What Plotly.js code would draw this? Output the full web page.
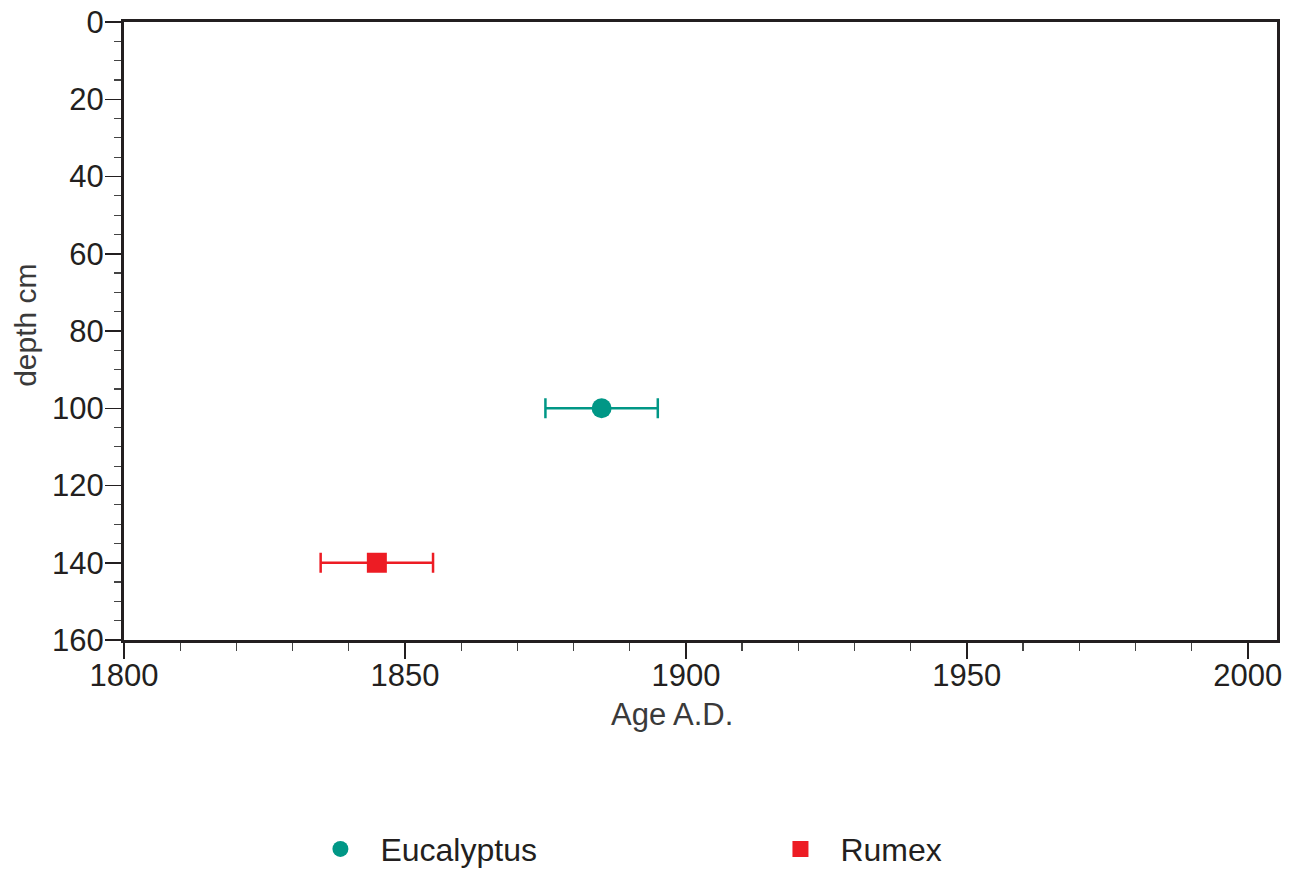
<!DOCTYPE html>
<html>
<head>
<meta charset="utf-8">
<script src="https://cdn.plot.ly/plotly-3.0.1.min.js"></script>
<style>html,body{margin:0;padding:0;background:#fff;}#chart{width:1301px;height:870px;}</style>
</head>
<body>
<div id="chart"></div>
<script>
var seriesNames = ["Eucalyptus", "Rumex"];
var ageAD = [[1885], [1845]];
var depthCm = [[100], [140]];
var ageError = [[10], [10]];
var seriesColors = ["#009786", "#ed1c24"];
var seriesSymbols = ["circle", "square"];
var xTickVals = [1800, 1850, 1900, 1950, 2000];
var yTickVals = [0, 20, 40, 60, 80, 100, 120, 140, 160];

var FONT = "Liberation Sans, Arial, Helvetica, sans-serif";
var INK = "#231f20";
var legendIds = ["legend", "legend2"];

var traces = seriesNames.map(function(name, i) {
  return {
    type: "scatter",
    mode: "markers",
    name: name,
    legend: legendIds[i],
    x: ageAD[i],
    y: depthCm[i],
    marker: {symbol: seriesSymbols[i], size: 20, color: seriesColors[i]},
    error_x: {type: "data", array: ageError[i], visible: true, color: seriesColors[i], thickness: 2.5, width: 10},
    cliponaxis: false
  };
});

function legendBox(xp) {
  return {
    orientation: "h",
    x: xp, xanchor: "left", xref: "paper",
    y: 0.024, yanchor: "middle", yref: "container",
    itemwidth: 70,
    font: {family: FONT, size: 32, color: INK},
    bgcolor: "rgba(0,0,0,0)",
    borderwidth: 0
  };
}

var layout = {
  width: 1301,
  height: 870,
  paper_bgcolor: "#fff",
  plot_bgcolor: "#fff",
  margin: {l: 124, r: 24, t: 22, b: 230, pad: 0},
  font: {family: FONT, size: 31, color: INK},
  showlegend: true,
  legend: legendBox(0.153),
  legend2: legendBox(0.552),
  xaxis: {
    range: [1800, 2005.2],
    tickvals: xTickVals,
    ticks: "outside", ticklen: 16, tickwidth: 1.5, tickcolor: INK,
    ticklabelstandoff: -10,
    minor: {dtick: 10, ticks: "outside", ticklen: 8, tickwidth: 1.2, tickcolor: "#444", showgrid: false},
    showline: true, linecolor: INK, linewidth: 3, mirror: true,
    showgrid: false, zeroline: false,
    tickfont: {family: FONT, size: 31, color: INK},
    title: {text: ""}
  },
  yaxis: {
    range: [160, 0],
    tickvals: yTickVals,
    ticks: "outside", ticklen: 16, tickwidth: 1.5, tickcolor: INK,
    ticklabelstandoff: -5,
    minor: {dtick: 5, ticks: "outside", ticklen: 7, tickwidth: 1.2, tickcolor: "#444", showgrid: false},
    showline: true, linecolor: INK, linewidth: 3, mirror: true,
    showgrid: false, zeroline: false,
    tickfont: {family: FONT, size: 31, color: INK},
    title: {text: ""}
  },
  annotations: [
    {text: "Age A.D.", xref: "x", yref: "paper", x: 1897.5, y: -0.12, xanchor: "center", yanchor: "middle",
     showarrow: false, font: {family: FONT, size: 31, color: "#3a3a3a"}},
    {text: "depth cm", xref: "paper", yref: "paper", x: -0.085, y: 0.51, textangle: -90, xanchor: "center", yanchor: "middle",
     showarrow: false, font: {family: FONT, size: 30, color: "#3a3a3a"}}
  ]
};

Plotly.newPlot("chart", traces, layout, {displayModeBar: false, staticPlot: true});
</script>
</body>
</html>
